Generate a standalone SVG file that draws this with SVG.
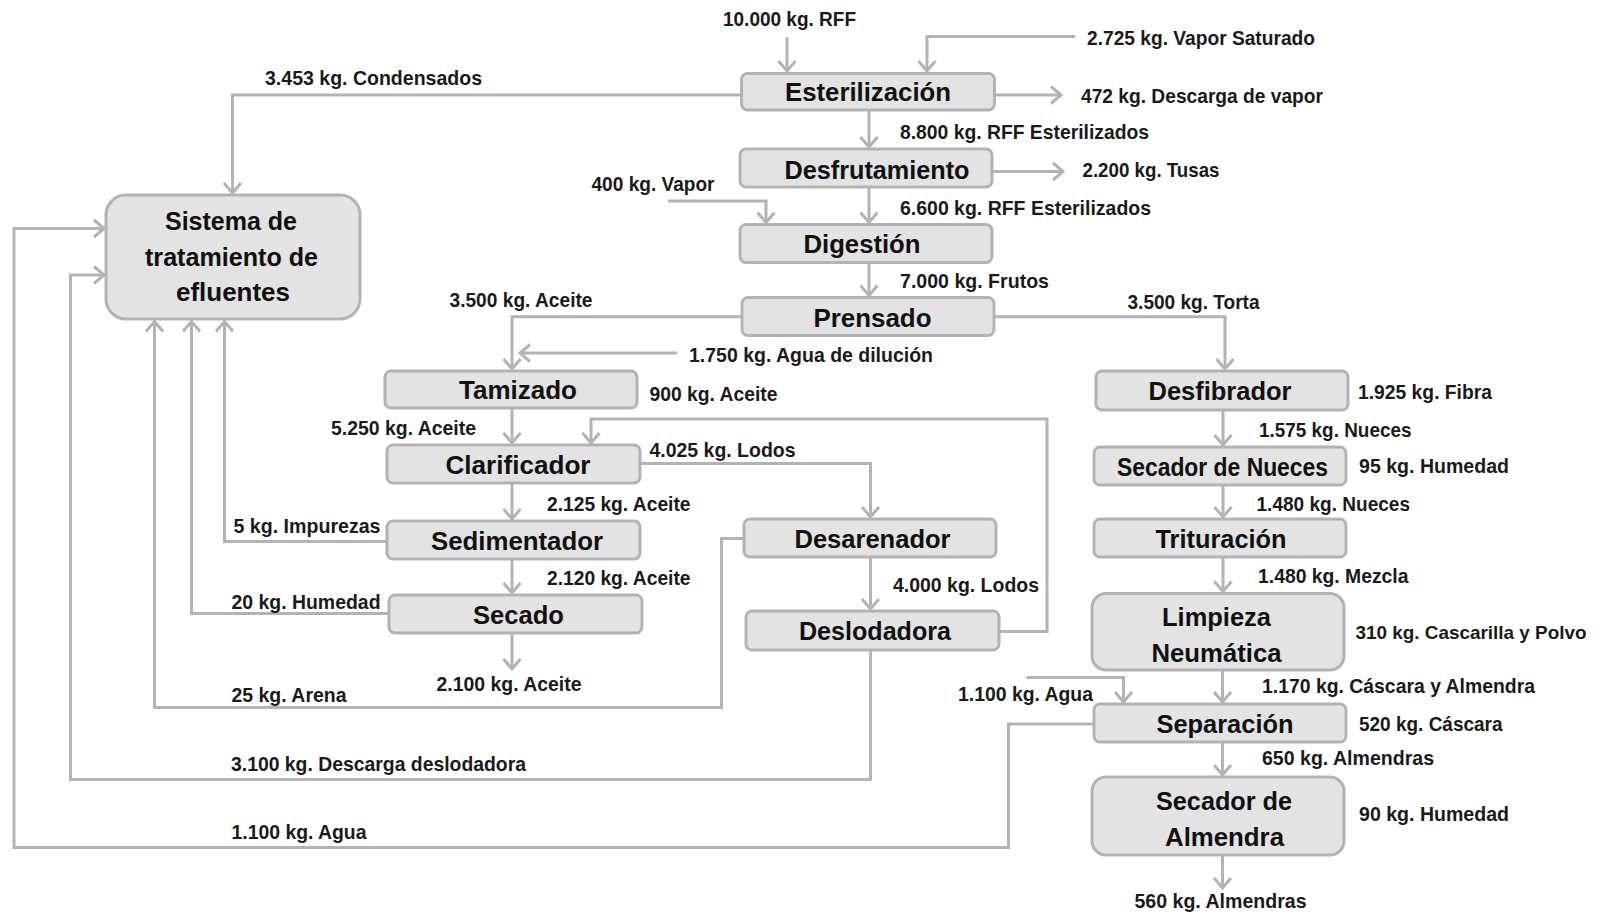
<svg xmlns="http://www.w3.org/2000/svg" width="1602" height="915" viewBox="0 0 1602 915">
<style>
.box{fill:#e3e3e3;stroke:#b3b3b3;stroke-width:3}
.nt{font-family:"Liberation Sans",Arial,sans-serif;font-weight:bold;font-size:26.5px;fill:#111;text-anchor:middle}
.lb{font-family:"Liberation Sans",Arial,sans-serif;font-weight:bold;font-size:20.5px;fill:#1a1a1a}
.c{fill:none;stroke:#b3b3b3;stroke-width:3}
.ar{marker-end:url(#a)}
</style>
<defs>
<marker id="a" markerUnits="userSpaceOnUse" markerWidth="30" markerHeight="30" viewBox="-15 -15 30 30" refX="0" refY="0" orient="auto" overflow="visible">
<path d="M-10,-8.5 L0,0 L-10,8.5" fill="none" stroke="#b3b3b3" stroke-width="3"/>
</marker>
</defs>
<rect width="1602" height="915" fill="#ffffff"/>
<g id="connectors">
<path class="c ar" d="M787,37 V71"/>
<path class="c ar" d="M1075,36.5 H927 V71"/>
<path class="c ar" d="M741,95 H232.5 V193"/>
<path class="c ar" d="M995,95 H1061"/>
<path class="c ar" d="M869,110 V147"/>
<path class="c ar" d="M992,171.5 H1063"/>
<path class="c ar" d="M668,201 H766 V222.5"/>
<path class="c ar" d="M869,187 V222.5"/>
<path class="c ar" d="M869,262.5 V295.5"/>
<path class="c ar" d="M742,316.7 H512 V369"/>
<path class="c ar" d="M994,316.7 H1225 V369"/>
<path class="c ar" d="M677,353 H520"/>
<path class="c ar" d="M512,408 V443"/>
<path class="c ar" d="M999,631.5 H1047 V419 H591 V443"/>
<path class="c ar" d="M640,463.5 H870.5 V517"/>
<path class="c ar" d="M512,483 V519"/>
<path class="c ar" d="M387,541.5 H224.5 V321.5"/>
<path class="c ar" d="M744,538.5 H721.5 V707.5 H154.5 V321.5"/>
<path class="c ar" d="M870.5,557 V609"/>
<path class="c ar" d="M512,559 V593"/>
<path class="c ar" d="M389,613.5 H191.5 V321.5"/>
<path class="c ar" d="M512,633 V669"/>
<path class="c ar" d="M870.5,650 V779.5 H70.5 V275 H104"/>
<path class="c ar" d="M1094,724 H1008.5 V847.5 H14 V228.5 H104"/>
<path class="c ar" d="M1026.5,677.5 H1123.5 V702"/>
<path class="c ar" d="M1223,410 V445"/>
<path class="c ar" d="M1223,485 V517"/>
<path class="c ar" d="M1223,557 V591.5"/>
<path class="c ar" d="M1222.5,670 V702"/>
<path class="c ar" d="M1222.5,742 V775"/>
<path class="c ar" d="M1222.5,855 V888"/>
</g>
<g id="n-sistema"><rect class="box" x="106" y="195" width="254" height="124" rx="20"/>
<text class="nt" x="231" y="230" textLength="132" lengthAdjust="spacingAndGlyphs">Sistema de</text>
<text class="nt" x="231.5" y="265.5" textLength="173" lengthAdjust="spacingAndGlyphs">tratamiento de</text>
<text class="nt" x="233" y="300.5" textLength="114" lengthAdjust="spacingAndGlyphs">efluentes</text></g>
<g id="n-esterilizacion"><rect class="box" x="741.5" y="73.5" width="253" height="36.5" rx="6"/>
<text class="nt" x="868" y="101" textLength="166" lengthAdjust="spacingAndGlyphs">Esterilización</text></g>
<g id="n-desfrutamiento"><rect class="box" x="740" y="149" width="252" height="38" rx="6"/>
<text class="nt" x="877" y="178.5" textLength="185" lengthAdjust="spacingAndGlyphs">Desfrutamiento</text></g>
<g id="n-digestion"><rect class="box" x="740" y="224.5" width="252" height="38" rx="6"/>
<text class="nt" x="862" y="253" textLength="117" lengthAdjust="spacingAndGlyphs">Digestión</text></g>
<g id="n-prensado"><rect class="box" x="742" y="297.5" width="252" height="38" rx="6"/>
<text class="nt" x="872.5" y="326.5" textLength="118" lengthAdjust="spacingAndGlyphs">Prensado</text></g>
<g id="n-tamizado"><rect class="box" x="385" y="371" width="252" height="37" rx="6"/>
<text class="nt" x="518" y="399" textLength="118" lengthAdjust="spacingAndGlyphs">Tamizado</text></g>
<g id="n-clarificador"><rect class="box" x="387" y="445" width="253" height="38" rx="6"/>
<text class="nt" x="518" y="473.5" textLength="145" lengthAdjust="spacingAndGlyphs">Clarificador</text></g>
<g id="n-sedimentador"><rect class="box" x="387" y="521" width="253" height="38" rx="6"/>
<text class="nt" x="517" y="549.5" textLength="172" lengthAdjust="spacingAndGlyphs">Sedimentador</text></g>
<g id="n-secado"><rect class="box" x="389" y="595" width="253" height="38" rx="6"/>
<text class="nt" x="518.5" y="623.5" textLength="91" lengthAdjust="spacingAndGlyphs">Secado</text></g>
<g id="n-desarenador"><rect class="box" x="744" y="519" width="252" height="38" rx="6"/>
<text class="nt" x="872.5" y="547.5" textLength="156" lengthAdjust="spacingAndGlyphs">Desarenador</text></g>
<g id="n-deslodadora"><rect class="box" x="746" y="611" width="253" height="39" rx="6"/>
<text class="nt" x="875" y="640" textLength="152" lengthAdjust="spacingAndGlyphs">Deslodadora</text></g>
<g id="n-desfibrador"><rect class="box" x="1096" y="371" width="252" height="39" rx="6"/>
<text class="nt" x="1220" y="400" textLength="143" lengthAdjust="spacingAndGlyphs">Desfibrador</text></g>
<g id="n-secador-nueces"><rect class="box" x="1094" y="447" width="252" height="38" rx="6"/>
<text class="nt" x="1222.5" y="475.5" textLength="211" lengthAdjust="spacingAndGlyphs">Secador de Nueces</text></g>
<g id="n-trituracion"><rect class="box" x="1094" y="519" width="252" height="38" rx="6"/>
<text class="nt" x="1221" y="547.5" textLength="131" lengthAdjust="spacingAndGlyphs">Trituración</text></g>
<g id="n-limpieza"><rect class="box" x="1092" y="593.5" width="252" height="76.5" rx="14"/>
<text class="nt" x="1216.5" y="626" textLength="109" lengthAdjust="spacingAndGlyphs">Limpieza</text>
<text class="nt" x="1216.5" y="661.5" textLength="130" lengthAdjust="spacingAndGlyphs">Neumática</text></g>
<g id="n-separacion"><rect class="box" x="1094" y="704" width="252" height="38" rx="6"/>
<text class="nt" x="1225" y="732.5" textLength="137" lengthAdjust="spacingAndGlyphs">Separación</text></g>
<g id="n-secador-almendra"><rect class="box" x="1092" y="777" width="252" height="78" rx="14"/>
<text class="nt" x="1224" y="810" textLength="136" lengthAdjust="spacingAndGlyphs">Secador de</text>
<text class="nt" x="1224.5" y="846" textLength="119" lengthAdjust="spacingAndGlyphs">Almendra</text></g>
<g id="labels" class="lb">
<text x="723" y="26" textLength="133" lengthAdjust="spacingAndGlyphs">10.000 kg. RFF</text>
<text x="1087" y="45" textLength="228" lengthAdjust="spacingAndGlyphs">2.725 kg. Vapor Saturado</text>
<text x="265" y="85" textLength="217" lengthAdjust="spacingAndGlyphs">3.453 kg. Condensados</text>
<text x="1081" y="103" textLength="242" lengthAdjust="spacingAndGlyphs">472 kg. Descarga de vapor</text>
<text x="900" y="138.5" textLength="249" lengthAdjust="spacingAndGlyphs">8.800 kg. RFF Esterilizados</text>
<text x="1082.5" y="176.5" textLength="137" lengthAdjust="spacingAndGlyphs">2.200 kg. Tusas</text>
<text x="591.5" y="190.5" textLength="123" lengthAdjust="spacingAndGlyphs">400 kg. Vapor</text>
<text x="900" y="215" textLength="251" lengthAdjust="spacingAndGlyphs">6.600 kg. RFF Esterilizados</text>
<text x="900" y="287.5" textLength="149" lengthAdjust="spacingAndGlyphs">7.000 kg. Frutos</text>
<text x="449.5" y="306.5" textLength="143" lengthAdjust="spacingAndGlyphs">3.500 kg. Aceite</text>
<text x="1127.5" y="308.5" textLength="132" lengthAdjust="spacingAndGlyphs">3.500 kg. Torta</text>
<text x="689" y="361.5" textLength="244" lengthAdjust="spacingAndGlyphs">1.750 kg. Agua de dilución</text>
<text x="649.5" y="401" textLength="128" lengthAdjust="spacingAndGlyphs">900 kg. Aceite</text>
<text x="331" y="435" textLength="145" lengthAdjust="spacingAndGlyphs">5.250 kg. Aceite</text>
<text x="649.5" y="456.5" textLength="146" lengthAdjust="spacingAndGlyphs">4.025 kg. Lodos</text>
<text x="547" y="510.5" textLength="143.5" lengthAdjust="spacingAndGlyphs">2.125 kg. Aceite</text>
<text x="233.5" y="532.5" textLength="147" lengthAdjust="spacingAndGlyphs">5 kg. Impurezas</text>
<text x="893" y="591.5" textLength="146" lengthAdjust="spacingAndGlyphs">4.000 kg. Lodos</text>
<text x="547" y="585" textLength="143.5" lengthAdjust="spacingAndGlyphs">2.120 kg. Aceite</text>
<text x="231.5" y="609" textLength="149" lengthAdjust="spacingAndGlyphs">20 kg. Humedad</text>
<text x="436.5" y="690.5" textLength="145" lengthAdjust="spacingAndGlyphs">2.100 kg. Aceite</text>
<text x="231.5" y="701.5" textLength="115" lengthAdjust="spacingAndGlyphs">25 kg. Arena</text>
<text x="231" y="770.5" textLength="295" lengthAdjust="spacingAndGlyphs">3.100 kg. Descarga deslodadora</text>
<text x="231.5" y="839" textLength="135" lengthAdjust="spacingAndGlyphs">1.100 kg. Agua</text>
<text x="958" y="700.5" textLength="135" lengthAdjust="spacingAndGlyphs">1.100 kg. Agua</text>
<text x="1358" y="399" textLength="134" lengthAdjust="spacingAndGlyphs">1.925 kg. Fibra</text>
<text x="1259" y="436.5" textLength="152.5" lengthAdjust="spacingAndGlyphs">1.575 kg. Nueces</text>
<text x="1359" y="472.5" textLength="150" lengthAdjust="spacingAndGlyphs">95 kg. Humedad</text>
<text x="1256.5" y="510.5" textLength="153.5" lengthAdjust="spacingAndGlyphs">1.480 kg. Nueces</text>
<text x="1258" y="583" textLength="150.5" lengthAdjust="spacingAndGlyphs">1.480 kg. Mezcla</text>
<text x="1355.5" y="639" font-size="18.5" textLength="231" lengthAdjust="spacingAndGlyphs">310 kg. Cascarilla y Polvo</text>
<text x="1262" y="693" textLength="273" lengthAdjust="spacingAndGlyphs">1.170 kg. Cáscara y Almendra</text>
<text x="1359" y="731" textLength="143.5" lengthAdjust="spacingAndGlyphs">520 kg. Cáscara</text>
<text x="1262" y="765" textLength="172" lengthAdjust="spacingAndGlyphs">650 kg. Almendras</text>
<text x="1359" y="821" textLength="150" lengthAdjust="spacingAndGlyphs">90 kg. Humedad</text>
<text x="1134.5" y="908" textLength="172" lengthAdjust="spacingAndGlyphs">560 kg. Almendras</text>
</g>
</svg>
